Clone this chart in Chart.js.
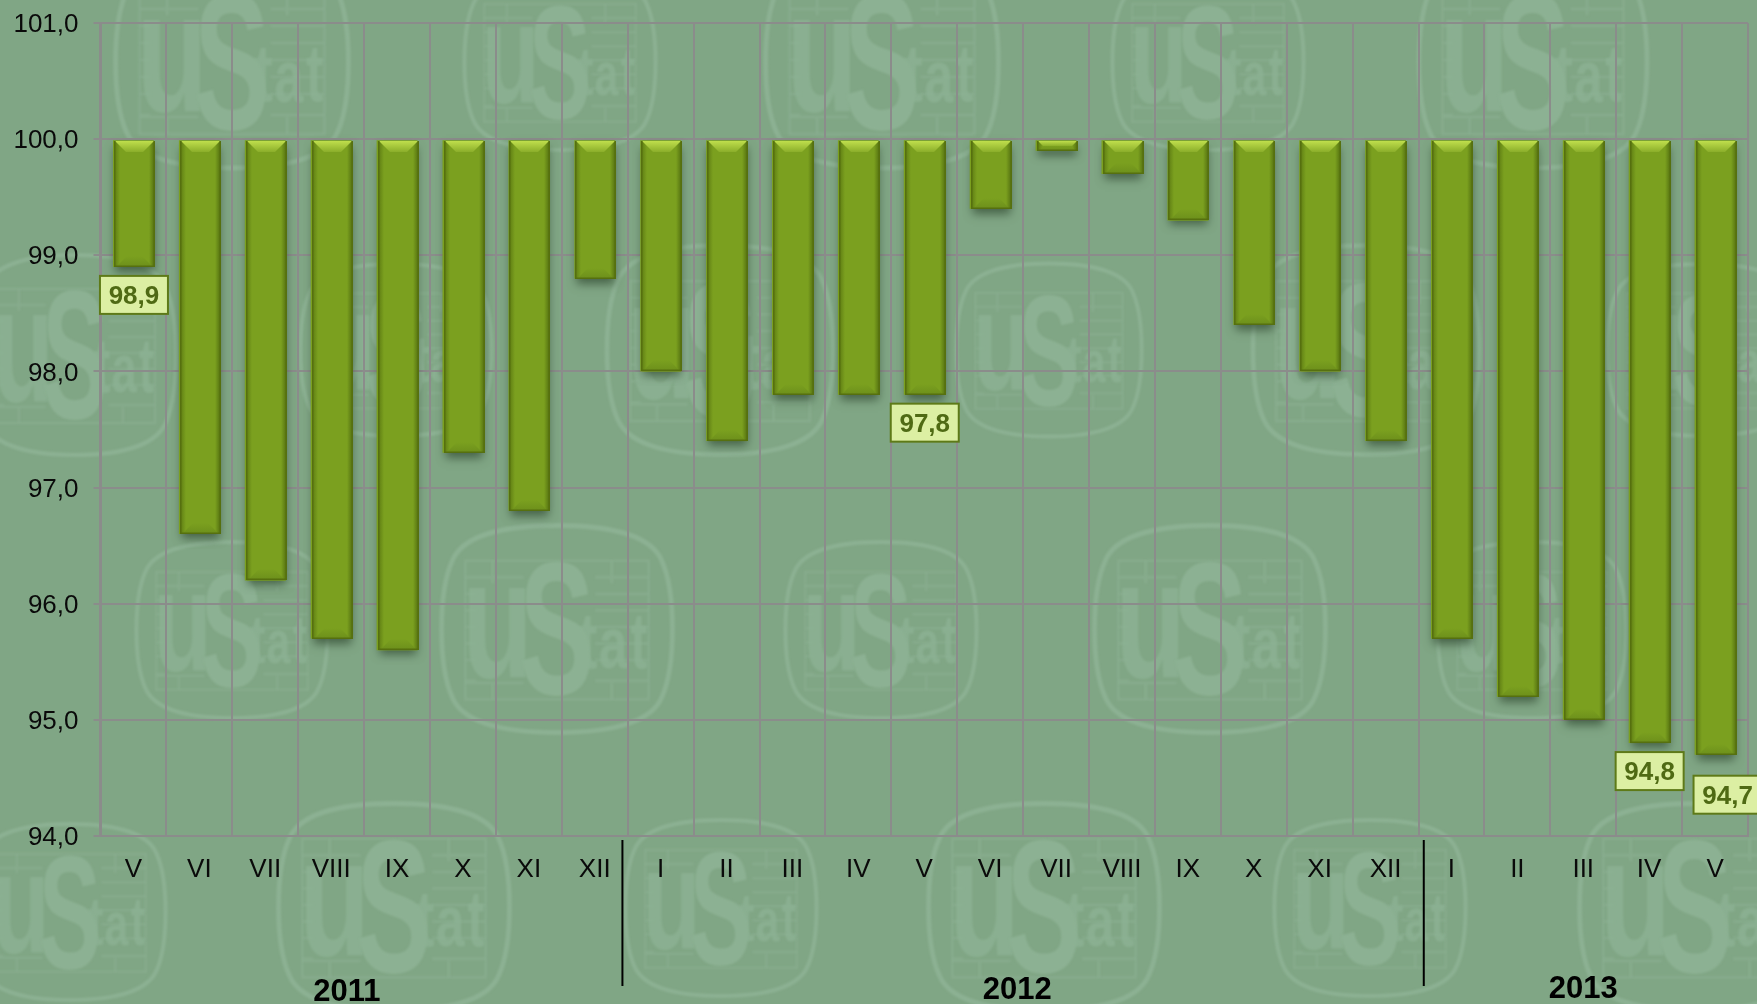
<!DOCTYPE html>
<html>
<head>
<meta charset="utf-8">
<style>
html,body{margin:0;padding:0;background:#80a685;overflow:hidden}
canvas{display:block}
</style>
<script src="https://cdn.jsdelivr.net/npm/chart.js@4/dist/chart.umd.min.js"></script>
</head>
<body>
<canvas id="c" width="1757" height="1004"></canvas>
<script>
const categories = ['V','VI','VII','VIII','IX','X','XI','XII','I','II','III','IV','V','VI','VII','VIII','IX','X','XI','XII','I','II','III','IV','V'];
const values = [98.9,96.6,96.2,95.7,95.6,97.3,96.8,98.8,98.0,97.4,97.8,97.8,97.8,99.4,99.9,99.7,99.3,98.4,98.0,97.4,95.7,95.2,95.0,94.8,94.7];
const labelledIndexes = [0,12,23,24];
const years = ['2011','2012','2013'];
const yearCentres = [3.24,13.41,22.0];
const yearBaselines = [992,990,989];
const separators = [7.42,19.58];
const baseValue = 100;

const BG='#80a685', GRID='#8b8c8b', LOGO='#8cb193';
// watermark stamps: centre x, centre y, width, height
const stamps=[
 [232,62,240,212],[560,62,197,176],[882,62,240,212],[1208,62,197,176],[1533,62,235,212],
 [75,355,208,200],[396,350,197,172],[720,350,233,209],[1049,350,191,173],[1366,350,233,209],[1703,350,197,172],
 [232,630,197,176],[557,629,238,207],[881,630,197,176],[1210,629,238,207],[1532,630,194,176],
 [70,912,197,176],[394,907,238,207],[721,908,197,176],[1044,907,238,207],[1370,908,197,176],[1695,907,238,207]
];
function fitText(ctx,t,x0,y0,x1,y1,font){
  ctx.save();
  ctx.font=font; ctx.textBaseline='alphabetic'; ctx.textAlign='left';
  const m=ctx.measureText(t);
  const tw=m.actualBoundingBoxRight+m.actualBoundingBoxLeft, th=m.actualBoundingBoxAscent+m.actualBoundingBoxDescent;
  ctx.translate(x0,y0);
  ctx.scale((x1-x0)/tw,(y1-y0)/th);
  ctx.fillText(t,m.actualBoundingBoxLeft,m.actualBoundingBoxAscent);
  ctx.restore();
}
function drawStamp(ctx,s){
  const [cx,cy,w,h]=s;
  const X=v=>cx+v*w, Y=v=>cy+v*h;
  ctx.save();
  ctx.filter='blur(0.8px)';
  ctx.strokeStyle=LOGO; ctx.fillStyle=LOGO;
  ctx.lineWidth=w/50;
  ctx.beginPath();
  ctx.moveTo(X(0),Y(-.5));
  ctx.bezierCurveTo(X(.25),Y(-.5),X(.4),Y(-.44),X(.44),Y(-.33));
  ctx.bezierCurveTo(X(.5),Y(-.18),X(.5),Y(.18),X(.44),Y(.33));
  ctx.bezierCurveTo(X(.4),Y(.44),X(.25),Y(.5),X(0),Y(.5));
  ctx.bezierCurveTo(X(-.25),Y(.5),X(-.4),Y(.44),X(-.44),Y(.33));
  ctx.bezierCurveTo(X(-.5),Y(.18),X(-.5),Y(-.18),X(-.44),Y(-.33));
  ctx.bezierCurveTo(X(-.4),Y(-.44),X(-.25),Y(-.5),X(0),Y(-.5));
  ctx.closePath(); ctx.stroke();
  ctx.globalAlpha=.55;
  ctx.lineWidth=w/85;
  ctx.strokeRect(X(-.385),Y(-.33),w*.77,h*.67);
  ctx.beginPath();
  [-.25,-.17,-.09,-.01,.07,.15,.25].forEach(v=>{
    ctx.moveTo(X(.16),Y(v)); ctx.lineTo(X(.385),Y(v));
    ctx.moveTo(X(-.385),Y(v)); ctx.lineTo(X(-.34),Y(v));
  });
  ctx.moveTo(X(-.385),Y(-.25)); ctx.lineTo(X(-.14),Y(-.25));
  ctx.moveTo(X(-.385),Y(.26)); ctx.lineTo(X(-.14),Y(.26));
  [-.27,.23].forEach(v=>{ctx.moveTo(X(v),Y(-.33));ctx.lineTo(X(v),Y(-.22));ctx.moveTo(X(v),Y(.26));ctx.lineTo(X(v),Y(.34));});
  ctx.stroke();
  ctx.globalAlpha=.8;
  const f='bold 100px "Liberation Sans Narrow","Liberation Sans"';
  fitText(ctx,'u',X(-.37),Y(-.2),X(-.13),Y(.24),f);
  fitText(ctx,'t',X(.09),Y(-.07),X(.17),Y(.19),f);
  fitText(ctx,'a',X(.18),Y(-.0),X(.3),Y(.19),f);
  fitText(ctx,'t',X(.31),Y(-.07),X(.38),Y(.19),f);
  ctx.globalAlpha=1;
  fitText(ctx,'S',X(-.15),Y(-.325),X(.14),Y(.325),f);
  ctx.restore();
}
const backdrop={id:'backdrop',beforeDraw(chart){
  const {ctx,width,height}=chart;
  ctx.save();
  ctx.fillStyle=BG; ctx.fillRect(0,0,width,height);
  stamps.forEach(s=>drawStamp(ctx,s));
  ctx.restore();
}};
const shadows={id:'shadows',beforeDatasetsDraw(chart){
  const {ctx}=chart;
  ctx.save();
  chart.getDatasetMeta(0).data.forEach(b=>{
    const l=b.x-b.width/2+1;
    ctx.save();
    ctx.shadowColor='rgba(45,70,45,.7)'; ctx.shadowBlur=9; ctx.shadowOffsetY=5;
    ctx.fillStyle='#6d8e20';
    ctx.fillRect(l+1,b.base+2,b.width-2,b.y-b.base-2);
    ctx.restore();
  });
  ctx.restore();
}};
const bevel={id:'bevel',afterDatasetsDraw(chart){
  const {ctx}=chart;
  ctx.save();
  chart.getDatasetMeta(0).data.forEach(b=>{
    const l=Math.round(b.x-b.width/2)+1, r=l+Math.round(b.width), t=Math.round(b.base)+1, bt=Math.round(b.y);
    const h=bt-t, d=Math.min(11,h/2);
    ctx.fillStyle='#7ba01f'; ctx.fillRect(l,t,r-l,h);
    // side faces
    let g=ctx.createLinearGradient(l,0,l+6,0);
    g.addColorStop(0,'#5c7a12'); g.addColorStop(1,'#7ba01f');
    ctx.fillStyle=g; ctx.fillRect(l,t,6,h);
    g=ctx.createLinearGradient(r-6,0,r,0);
    g.addColorStop(0,'#7ba01f'); g.addColorStop(1,'#506c0f');
    ctx.fillStyle=g; ctx.fillRect(r-6,t,6,h);
    // top face
    g=ctx.createLinearGradient(0,t,0,t+d);
    g.addColorStop(0,'#bfde4c'); g.addColorStop(1,'#8bae2a');
    ctx.fillStyle=g;
    ctx.beginPath();ctx.moveTo(l+1,t);ctx.lineTo(r-1,t);ctx.lineTo(r-1-d,t+d);ctx.lineTo(l+1+d,t+d);ctx.closePath();ctx.fill();
    // bottom face
    g=ctx.createLinearGradient(0,bt-d,0,bt);
    g.addColorStop(0,'#7ba01f'); g.addColorStop(1,'#6c8f1b');
    ctx.fillStyle=g;
    ctx.beginPath();ctx.moveTo(l+2+d,bt-d);ctx.lineTo(r-2-d,bt-d);ctx.lineTo(r-2,bt);ctx.lineTo(l+2,bt);ctx.closePath();ctx.fill();
    // edge
    ctx.strokeStyle='#56700f'; ctx.lineWidth=1.5;
    ctx.beginPath();ctx.moveTo(l+.75,t);ctx.lineTo(l+.75,bt-.75);ctx.lineTo(r-.75,bt-.75);ctx.lineTo(r-.75,t);ctx.stroke();
  });
  ctx.restore();
}};
const annotations={id:'annotations',afterDraw(chart){
  const {ctx}=chart, xs=chart.scales.x, meta=chart.getDatasetMeta(0);
  ctx.save();
  // callouts on the labelled bars
  labelledIndexes.forEach(i=>{
    const b=meta.data[i];
    const last=i===categories.length-1;
    const cx=b.x+.5+(last?12:0), top=b.y+(last?21:9);
    const w=68,h=38;
    ctx.fillStyle='#dcefa3'; ctx.strokeStyle='#5e7a18'; ctx.lineWidth=2;
    ctx.fillRect(cx-w/2,top,w,h); ctx.strokeRect(cx-w/2,top,w,h);
    ctx.fillStyle='#4f6a14'; ctx.font='bold 26px "Liberation Sans"';
    ctx.textAlign='center'; ctx.textBaseline='middle';
    ctx.fillText(values[i].toFixed(1).replace('.',','),cx,top+h/2+2);
  });
  // year separators and captions
  ctx.strokeStyle='#000'; ctx.lineWidth=2;
  separators.forEach(v=>{
    const x=xs.getPixelForValue(v);
    ctx.beginPath();ctx.moveTo(x,840);ctx.lineTo(x,986);ctx.stroke();
  });
  ctx.fillStyle='#000'; ctx.font='bold 31px "Liberation Sans"';
  ctx.textAlign='center'; ctx.textBaseline='middle';
  years.forEach((y,i)=>ctx.fillText(y,xs.getPixelForValue(yearCentres[i]),yearBaselines[i]));
  ctx.restore();
}};
new Chart(document.getElementById('c'),{
  type:'bar',
  data:{labels:categories,datasets:[{data:values,base:baseValue,backgroundColor:'#7ba01f',borderWidth:0,
    categoryPercentage:1,barPercentage:.62}]},
  plugins:[backdrop,shadows,bevel,annotations],
  options:{
    responsive:false,animation:false,
    layout:{padding:{top:23,right:9,left:0,bottom:0}},
    plugins:{legend:{display:false},title:{display:false},tooltip:{enabled:false}},
    scales:{
      x:{
        afterFit(s){s.height=168;},
        grid:{color:GRID,lineWidth:2,drawTicks:false},
        border:{color:GRID,width:2},
        ticks:{autoSkip:false,maxRotation:0,minRotation:0,padding:18,color:'#0a0a0a',font:{family:'"Liberation Sans"',size:26}}
      },
      y:{
        min:94,max:101,
        afterFit(s){s.width=100.5;s.paddingTop=0;s.paddingBottom=0;},
        grid:{color:GRID,lineWidth:2,tickLength:7},
        border:{color:GRID,width:2},
        ticks:{stepSize:1,padding:15,labelOffset:2,color:'#0a0a0a',font:{family:'"Liberation Sans"',size:26},
          callback:v=>v.toFixed(1).replace('.',',')}
      }
    }
  }
});
</script>
</body>
</html>
